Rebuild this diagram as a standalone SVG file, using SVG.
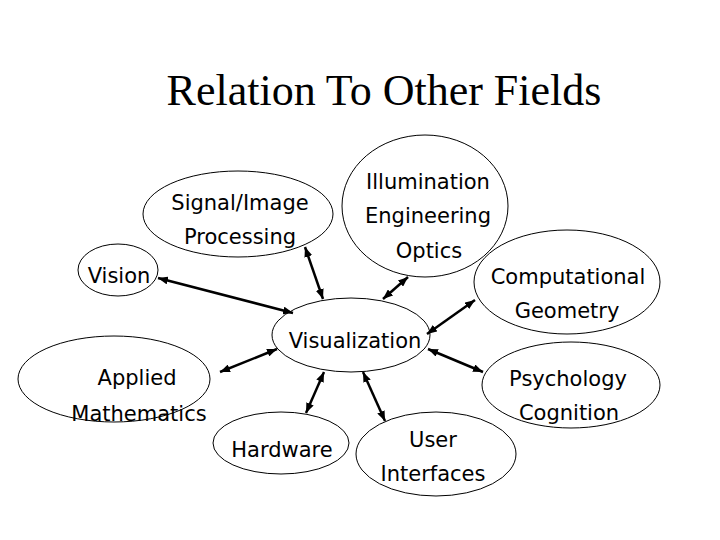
<svg xmlns="http://www.w3.org/2000/svg" width="720" height="540" viewBox="0 0 720 540">
<defs>
<marker id="ah" viewBox="0 0 10 8" refX="10" refY="4" markerWidth="10" markerHeight="8" markerUnits="userSpaceOnUse" orient="auto-start-reverse">
<path d="M0,0 L10,4 L0,8 z" fill="#000"/>
</marker>
<style>
.n ellipse{fill:none;stroke:#000;stroke-width:1}
.n text{font-family:"DejaVu Sans","Noto Sans",sans-serif;font-size:21px;fill:#000;text-anchor:middle}
#edges line{stroke:#000;stroke-width:2.5;marker-start:url(#ah);marker-end:url(#ah)}
.title{font-family:"Liberation Serif","Times New Roman",serif;font-size:44px;fill:#000;text-anchor:middle}
</style>
</defs>
<rect width="720" height="540" fill="#fff"/>
<text class="title" x="384" y="105">Relation To Other Fields</text>
<g id="signal" class="n"><ellipse cx="238" cy="214" rx="95" ry="43"/><text x="240" y="210">Signal/Image</text><text x="240" y="244">Processing</text></g>
<g id="vision" class="n"><ellipse cx="118" cy="270" rx="40" ry="26"/><text x="119" y="283">Vision</text></g>
<g id="illumination" class="n"><ellipse cx="425" cy="206" rx="83" ry="71"/><text x="428" y="189">Illumination</text><text x="428" y="223">Engineering</text><text x="429" y="258">Optics</text></g>
<g id="computational" class="n"><ellipse cx="567" cy="282" rx="93" ry="52"/><text x="568" y="284">Computational</text><text x="567" y="318">Geometry</text></g>
<g id="visualization" class="n"><ellipse cx="351" cy="335" rx="79" ry="37"/><text x="355" y="348">Visualization</text></g>
<g id="applied" class="n"><ellipse cx="114" cy="379" rx="96" ry="43"/><text x="137" y="385">Applied</text><text x="139" y="421">Mathematics</text></g>
<g id="hardware" class="n"><ellipse cx="281" cy="443" rx="68" ry="31"/><text x="282" y="457">Hardware</text></g>
<g id="psychology" class="n"><ellipse cx="571" cy="385" rx="89" ry="43"/><text x="568" y="386">Psychology</text><text x="569" y="420">Cognition</text></g>
<g id="user" class="n"><ellipse cx="436" cy="454" rx="80" ry="42"/><text x="433" y="447">User</text><text x="433" y="481">Interfaces</text></g>
<g id="edges">
<line x1="158" y1="278" x2="293" y2="313"/>
<line x1="305" y1="247" x2="323" y2="299"/>
<line x1="408" y1="277" x2="383" y2="299"/>
<line x1="475" y1="300" x2="427" y2="334"/>
<line x1="220" y1="372" x2="277" y2="349"/>
<line x1="306" y1="413" x2="324" y2="372"/>
<line x1="363" y1="372" x2="385" y2="421"/>
<line x1="428" y1="349" x2="483" y2="372"/>
</g>
</svg>
